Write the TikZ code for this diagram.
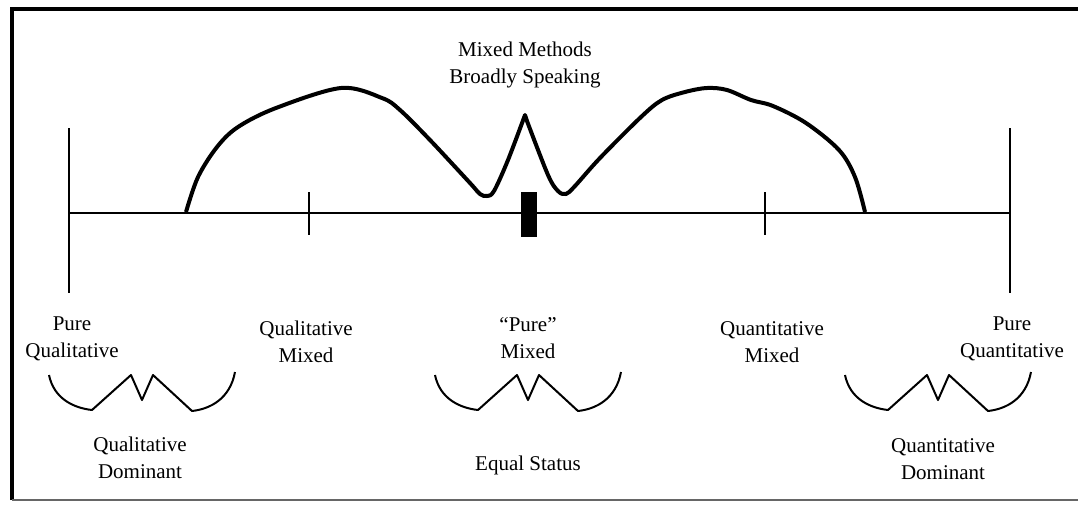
\documentclass[tikz,border=0pt]{standalone}
\usepackage{fontspec}
\setmainfont{Liberation Serif}
\begin{document}
\begin{tikzpicture}[x=0.5pt, y=-0.5pt,
  every node/.style={font=\fontsize{10.5}{13.5}\selectfont, align=center, anchor=base, inner sep=0pt},
  axisline/.style={line width=1pt},
  hump/.style={line width=2pt, line join=round},
  wave/.style={line width=1pt, line join=round}]
\useasboundingbox (0,0) rectangle (1078,510);
\draw[line width=2pt] (12,500) -- (12,9) -- (1078,9);
\draw[black!60, line width=1pt] (12,500) -- (1078,500);
\draw[axisline] (69,213) -- (1010,213);
\draw[axisline] (69,128) -- (69,293);
\draw[axisline] (1010,128) -- (1010,293);
\draw[axisline] (309,192) -- (309,235);
\draw[axisline] (765,192) -- (765,235);
\fill (521,192) rectangle (537,237);
\draw[hump] plot[smooth, tension=0.55] coordinates {(186,212) (198,177) (217,147) (238,127) (276,108) (341,88) (382,98) (400,110) (430,140) (470,183) (480,194) (487,196) (494,191) (508,160) (525,115)}
  -- plot[smooth, tension=0.55] coordinates {(527,121) (548,175) (558,191) (566,194) (575,186) (600,158) (641,117) (662,100) (685,92) (707,88) (727,90) (751,100) (773,106) (806,123) (839,150) (855,177) (865,212)};
\foreach \cx in {142,528,938}
  \draw[wave, shift={(\cx,375)}] (-93,0) .. controls (-88,24) and (-68,33) .. (-50,35) -- (-11,0) -- (0,25) -- (11,0) -- (50,36) .. controls (68,34) and (88,24) .. (93,-3);
\node (mixbroad) at (525,83) {Mixed Methods\\Broadly Speaking};
\node (purequal) at (72,357) {Pure\\Qualitative};
\node (qualmix) at (306,362) {Qualitative\\Mixed};
\node (puremix) at (528,358) {“Pure”\\Mixed};
\node (quanmix) at (772,362) {Quantitative\\Mixed};
\node (purequan) at (1012,357) {Pure\\Quantitative};
\node (qualdom) at (140,478) {Qualitative\\Dominant};
\node (equal) at (528,470) {Equal Status};
\node (quandom) at (943,479) {Quantitative\\Dominant};
\end{tikzpicture}
\end{document}
